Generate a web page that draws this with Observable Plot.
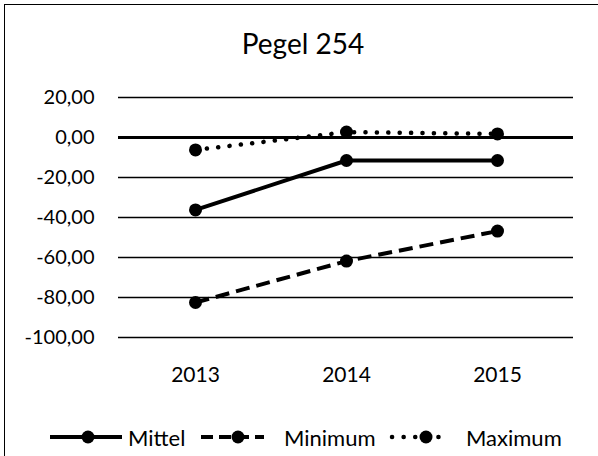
<!DOCTYPE html>
<html><head><meta charset="utf-8">
<script src="https://cdn.jsdelivr.net/npm/d3@7"></script>
<script src="https://cdn.jsdelivr.net/npm/@observablehq/plot@0.6"></script>
<style>
body{margin:0;background:#fff;font-family:Lato,sans-serif;}
#wrap{position:relative;width:598px;height:456px;overflow:hidden;background:#fff;}
#frame{position:absolute;left:4px;top:4px;width:700px;height:700px;border:1.5px solid #000;box-sizing:border-box;}
#title{position:absolute;left:0;width:606px;top:26px;text-align:center;font-size:28px;color:#000;}
#chart{position:absolute;left:0;top:0;}
#legend{position:absolute;top:423px;left:0;width:598px;height:28px;font-size:22px;}
.li{position:absolute;top:0;display:flex;align-items:center;height:28px;}
</style></head>
<body><div id="wrap"><div id="frame"></div><div id="title">Pegel 254</div><div id="chart"></div><div id="legend"></div></div>
<script>
const years = ["2013","2014","2015"];
const mittel = [-36.2,-11.5,-11.5];
const minimum = [-82.5,-61.8,-46.8];
const maximum = [-6.2,2.7,1.8];
const seriesNames = ["Mittel","Minimum","Maximum"];
const yTicks = [20,0,-20,-40,-60,-80,-100];

const styles = {
  Mittel:{dash:null, cap:"butt", width:4},
  Minimum:{dash:"14,7", cap:"butt", width:4},
  Maximum:{dash:"0.1,11.3", cap:"round", width:4.5}
};
const valuesBy = {Mittel:mittel, Minimum:minimum, Maximum:maximum};
const data = seriesNames.flatMap(s => years.map((y,i)=>({series:s, year:y, value:valuesBy[s][i]})));
const fmt = v => v.toFixed(2).replace(".", ",");

const marks = [
  Plot.ruleY(yTicks, {stroke:"#000", strokeWidth:1.5}),
  Plot.ruleY([0], {stroke:"#000", strokeWidth:3}),
  Plot.axisY({ticks:yTicks, tickFormat:fmt, tickSize:0, tickPadding:24, fontSize:20, label:null}),
  Plot.axisX({tickSize:0, tickPadding:30, fontSize:21, label:null}),
];
for (const s of seriesNames) {
  const st = styles[s];
  marks.push(Plot.line(data.filter(d=>d.series===s), {x:"year", y:"value", stroke:"#000", strokeWidth:st.width, strokeDasharray:st.dash, strokeLinecap:st.cap}));
  marks.push(Plot.dot(data.filter(d=>d.series===s), {x:"year", y:"value", r:6.5, fill:"#000", stroke:"none"}));
}
const chart = Plot.plot({
  width:598, height:390,
  marginLeft:118, marginRight:25, marginTop:97, marginBottom:53,
  x:{type:"point", domain:years, padding:0.5},
  y:{domain:[-100,20]},
  style:{fontFamily:"Lato, sans-serif", color:"#000", background:"transparent", overflow:"visible"},
  marks
});
document.getElementById("chart").appendChild(chart);

// legend
const legendPos = {Mittel:50, Minimum:201, Maximum:389};
const legendW = {Mittel:72, Minimum:63, Maximum:63};
const legendGap = {Mittel:6, Minimum:20, Maximum:14};
const lg = document.getElementById("legend");
for (const s of seriesNames) {
  const st = styles[s];
  const item = document.createElement("div");
  item.className = "li";
  item.style.left = legendPos[s] + "px";
  const w = legendW[s];
  const svg = d3.create("svg").attr("width", w).attr("height", 28);
  svg.append("line").attr("x1", st.cap === "round" ? 3 : 0).attr("x2", st.cap === "round" ? w - 3 : w).attr("y1", 14).attr("y2", 14)
    .attr("stroke", "#000").attr("stroke-width", st.width)
    .attr("stroke-dasharray", s === "Minimum" ? "12,6" : (s === "Maximum" ? "0.1,11.5" : st.dash)).attr("stroke-linecap", st.cap);
  svg.append("circle").attr("cx", s === "Mittel" ? 38 : 37).attr("cy", 14).attr("r", 6.5).attr("fill", "#000");
  item.appendChild(svg.node());
  const t = document.createElement("span");
  t.textContent = s;
  t.style.marginLeft = legendGap[s] + "px";
  item.appendChild(t);
  lg.appendChild(item);
}
</script></body></html>
